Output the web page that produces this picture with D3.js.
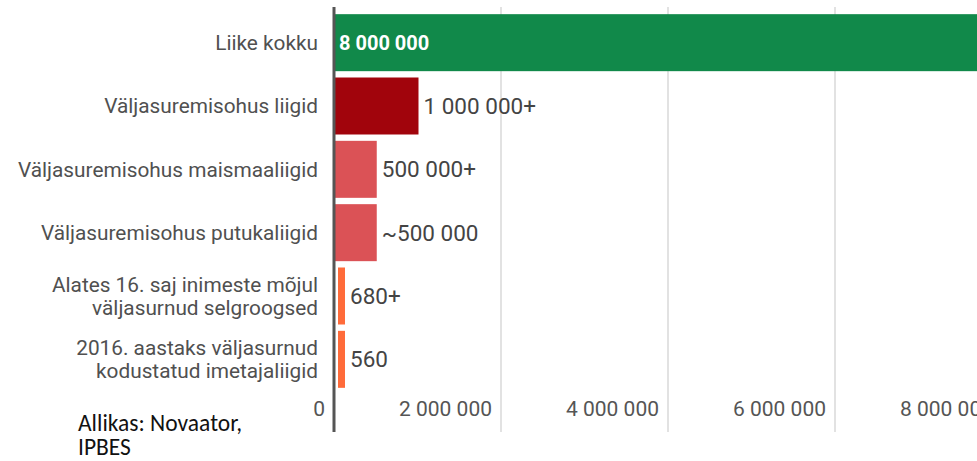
<!DOCTYPE html>
<html>
<head>
<meta charset="utf-8">
<script src="https://cdn.jsdelivr.net/npm/d3@7"></script>
<style>
  body { margin: 0; background: #fff; overflow: hidden; }
  svg { display: block; font-family: Roboto, "Noto Sans", sans-serif; }
</style>
</head>
<body>
<div id="viz"></div>
<script>
// data
var categories = [
  ["Liike kokku"],
  ["Väljasuremisohus liigid"],
  ["Väljasuremisohus maismaaliigid"],
  ["Väljasuremisohus putukaliigid"],
  ["Alates 16. saj inimeste mõjul", "väljasurnud selgroogsed"],
  ["2016. aastaks väljasurnud", "kodustatud imetajaliigid"]
]
var values = [8000000, 1000000, 500000, 500000, 680, 560]
var valueLabels = ["8 000 000", "1 000 000+", "500 000+", "~500 000", "680+", "560"]
var barColors = ["#11894a", "#a1040c", "#db5256", "#db5256", "#ff6b3a", "#ff6b3a"]
var tickValues = [0, 2000000, 4000000, 6000000, 8000000]
var source = ["Allikas: Novaator,", "IPBES"]

var w = 977
var h = 461

var svg = d3.select("#viz")
  .append("svg")
  .attr("width", w)
  .attr("height", h)

var x = d3.scaleLinear()
  .domain([0, 8000000])
  .range([334, 1002])

var y = d3.scaleBand()
  .domain(d3.range(categories.length))
  .range([11, 391])
  .paddingInner(0.1)
  .paddingOuter(0.05)

var fmt = d3.formatLocale({ decimal: ",", thousands: " ", grouping: [3], currency: ["", ""] }).format(",d")

// gridlines
svg.selectAll(".grid").data(tickValues.filter(d => d > 0))
  .enter()
  .append("line")
  .attr("x1", d => x(d))
  .attr("x2", d => x(d))
  .attr("y1", 7)
  .attr("y2", 432)
  .attr("stroke", "#e2e2e2")
  .attr("stroke-width", 2)

// tick labels (the last one runs off the right edge, as in the original)
svg.selectAll(".tick").data(tickValues)
  .enter()
  .append("text")
  .attr("x", d => x(d) - 9)
  .attr("y", 416)
  .attr("text-anchor", "end")
  .attr("fill", "#555")
  .style("font-size", "21px")
  .text(d => fmt(d))

// bars (tiny values get a minimum visible width)
var minW = 7
var barX = d => d < 10000 ? x(0) + 4 : x(0) + 1
var barW = d => Math.max(x(d) - x(0), minW)

svg.selectAll(".bar").data(values)
  .enter()
  .append("rect")
  .attr("x", d => barX(d))
  .attr("y", (d, i) => y(i))
  .attr("width", d => barW(d))
  .attr("height", y.bandwidth())
  .attr("fill", (d, i) => barColors[i])

// value labels
svg.selectAll(".val").data(values)
  .enter()
  .append("text")
  .attr("x", (d, i) => i === 0 ? x(0) + 5 : barX(d) + barW(d) + 5)
  .attr("y", (d, i) => y(i) + y.bandwidth() / 2)
  .attr("dy", "0.35em")
  .attr("fill", (d, i) => i === 0 ? "#fff" : "#444")
  .style("font-size", (d, i) => i === 0 ? "20px" : "22.5px")
  .style("font-weight", (d, i) => i === 0 ? "bold" : "normal")
  .text((d, i) => valueLabels[i])

// category labels
var lh = 23
svg.selectAll(".cat").data(categories)
  .enter()
  .append("text")
  .attr("x", 318)
  .attr("y", (d, i) => y(i) + y.bandwidth() / 2 - (d.length - 1) * lh / 2)
  .attr("text-anchor", "end")
  .attr("fill", "#505050")
  .style("font-size", "20.8px")
  .selectAll("tspan").data(d => d)
  .enter()
  .append("tspan")
  .attr("x", 318)
  .attr("dy", (d, j) => j === 0 ? "0.35em" : lh)
  .text(d => d)

// axis line
svg.append("line")
  .attr("x1", x(0))
  .attr("x2", x(0))
  .attr("y1", 7)
  .attr("y2", 432)
  .attr("stroke", "#555")
  .attr("stroke-width", 3)

// source
svg.append("text")
  .attr("x", 78)
  .attr("y", 431)
  .attr("fill", "#111")
  .style("font-family", "Carlito, Calibri, 'Open Sans', sans-serif")
  .style("font-size", "23.5px")
  .selectAll("tspan").data(source)
  .enter()
  .append("tspan")
  .attr("x", 78)
  .attr("dy", (d, j) => j === 0 ? 0 : 24)
  .text(d => d)
</script>
</body>
</html>
